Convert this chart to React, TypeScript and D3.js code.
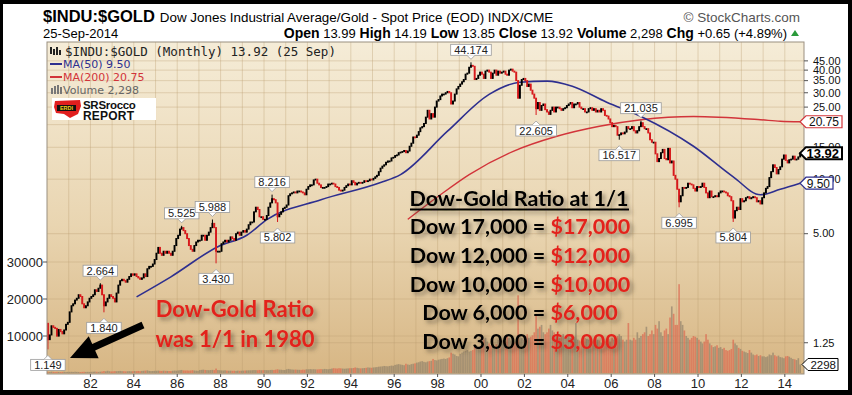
import React from 'react';
import * as d3 from 'd3';

const W = 852;
const H = 395;
const M = { left: 47, right: 804, top: 42, bottom: 374 };

// monthly closes of $INDU:$GOLD (Jan 1980 .. Sep 2014)
const close1979 = 1.6;
const closes1980s = [
  1.30, 1.38, 1.55, 1.52, 1.50, 1.36, 1.48, 1.44, 1.40, 1.47, 1.58, 1.62,
  1.85, 2.00, 2.05, 2.15, 2.20, 2.30, 2.25, 2.05, 1.95, 2.00, 2.10, 2.20,
  2.25, 2.30, 2.45, 2.40, 2.50, 2.60, 2.30, 2.00, 2.10, 2.20, 2.30, 2.25,
  2.20, 2.10, 2.35, 2.60, 2.75, 2.80, 2.75, 2.70, 2.80, 2.90, 3.00, 2.95,
  3.00, 2.90, 2.85, 2.80, 2.85, 3.00, 2.90, 3.20, 3.30, 3.30, 3.40, 3.60,
  3.90, 4.20, 3.90, 3.80, 4.00, 3.90, 4.00, 3.90, 3.80, 4.00, 4.30, 4.70,
  4.90, 5.30, 5.40, 5.20, 5.00, 4.70, 4.30, 4.10, 4.00, 4.30, 4.50, 4.60,
  4.60, 4.90, 4.90, 4.60, 4.90, 5.10, 5.40, 5.70, 5.40, 4.00, 4.00, 4.00,
  4.40, 4.50, 4.60, 4.50, 4.60, 4.80, 4.70, 4.60, 5.00, 5.10, 4.90, 5.10,
  5.20, 5.10, 5.30, 5.60, 5.80, 5.80, 6.60, 7.00, 6.80, 6.20, 6.20, 6.00,
];
const closes1990s = [
  6.00, 6.30, 7.00, 7.40, 7.80, 7.70, 7.40, 6.20, 6.40, 6.60, 6.90, 7.00,
  7.20, 8.10, 8.30, 8.40, 8.50, 8.40, 8.60, 8.60, 8.50, 8.40, 8.20, 8.80,
  9.10, 9.30, 9.30, 9.90, 10.0, 9.50, 9.30, 9.00, 9.00, 9.00, 9.10, 9.40,
  9.40, 9.50, 9.40, 9.10, 9.00, 8.70, 8.60, 8.70, 9.00, 9.20, 9.40, 9.30,
  9.80, 9.60, 9.30, 9.50, 9.60, 9.50, 9.60, 9.80, 9.70, 9.80, 10.0, 9.90,
  10.1, 10.3, 10.5, 11.0, 11.5, 11.8, 12.0, 12.4, 12.6, 12.6, 13.1, 13.2,
  13.5, 13.6, 14.0, 14.1, 14.2, 14.4, 14.0, 14.3, 15.2, 15.8, 17.1, 17.0,
  17.5, 18.3, 19.2, 19.5, 20.3, 22.0, 24.0, 21.5, 23.0, 22.0, 25.0, 27.0,
  27.5, 28.8, 29.5, 29.5, 30.0, 30.5, 30.0, 26.0, 27.0, 29.5, 31.5, 32.5,
  33.5, 34.5, 35.5, 38.0, 38.5, 41.5, 42.5, 42.0, 35.5, 36.0, 37.5, 39.0,
];
const closes2000s = [
  38.0, 36.0, 39.5, 40.0, 39.0, 36.0, 38.5, 40.0, 37.5, 39.5, 38.5, 39.0,
  39.5, 38.0, 37.5, 40.0, 40.5, 39.5, 39.0, 35.0, 28.0, 33.0, 35.5, 36.0,
  35.0, 32.5, 33.5, 31.0, 29.5, 28.0, 24.5, 26.5, 24.0, 25.5, 26.0, 24.2,
  23.5, 22.8, 24.0, 25.0, 23.5, 25.0, 25.0, 24.5, 24.0, 24.5, 24.8, 25.5,
  26.0, 26.5, 24.8, 26.0, 26.0, 26.5, 25.0, 24.5, 24.5, 23.5, 23.5, 24.5,
  24.8, 24.0, 24.5, 23.5, 24.0, 23.5, 24.5, 24.0, 22.5, 22.3, 21.5, 20.5,
  19.5, 19.8, 19.5, 17.5, 17.6, 18.0, 17.8, 18.2, 19.5, 19.0, 19.0, 19.5,
  18.5, 18.0, 18.5, 19.5, 20.5, 19.5, 19.0, 19.0, 18.0, 16.5, 16.0, 16.0,
  13.8, 12.5, 13.0, 14.0, 14.6, 13.0, 12.8, 14.8, 12.3, 12.6, 10.5, 10.0,
  8.80, 7.50, 8.10, 9.00, 8.90, 9.00, 9.50, 9.40, 9.30, 8.90, 8.60, 9.10,
];
const closes2010s = [
  9.00, 9.10, 9.50, 9.00, 8.40, 7.90, 8.60, 8.00, 8.00, 8.10, 8.00, 8.40,
  8.60, 8.60, 8.50, 8.40, 8.10, 8.00, 7.60, 6.10, 6.70, 7.00, 6.80, 7.80,
  7.50, 7.60, 7.90, 8.00, 7.80, 7.90, 8.00, 7.90, 7.50, 7.60, 7.30, 7.90,
  8.40, 8.90, 9.10, 10.2, 11.0, 12.0, 11.6, 10.7, 11.3, 11.7, 12.9, 13.6,
  12.7, 12.3, 12.8, 12.9, 13.4, 12.8, 12.9, 13.27, 13.92,
];

// monthly volume
const volumes1980s = [
  300, 250, 350, 300, 250, 300, 280, 260, 300, 320, 280, 300,
  300, 320, 280, 350, 300, 280, 260, 300, 330, 290, 310, 280,
  320, 350, 380, 330, 300, 360, 400, 520, 450, 600, 480, 420,
  450, 500, 480, 520, 560, 500, 480, 450, 470, 500, 460, 480,
  520, 500, 550, 480, 560, 600, 650, 700, 560, 520, 540, 580,
  600, 640, 580, 560, 620, 580, 560, 540, 520, 600, 650, 620,
  700, 760, 820, 720, 680, 700, 650, 700, 760, 680, 640, 600,
  800, 850, 900, 820, 780, 760, 800, 850, 780, 1200, 800, 760,
  700, 680, 720, 650, 620, 640, 600, 620, 580, 640, 600, 620,
  650, 680, 700, 720, 740, 760, 800, 780, 760, 820, 750, 780,
];
const volumes1990s = [
  800, 780, 760, 820, 840, 800, 900, 1000, 900, 880, 820, 800,
  1000, 1100, 1000, 950, 900, 920, 880, 860, 840, 900, 880, 1000,
  1000, 1050, 1000, 1020, 980, 960, 1000, 1050, 1000, 1100, 1050, 1000,
  1100, 1200, 1300, 1250, 1200, 1300, 1250, 1200, 1150, 1200, 1250, 1300,
  1300, 1350, 1500, 1400, 1300, 1250, 1300, 1350, 1400, 1500, 1450, 1400,
  1500, 1550, 1600, 1700, 1750, 1800, 1900, 1850, 1800, 1900, 2000, 1950,
  2200, 2300, 2400, 2300, 2200, 2100, 2500, 2300, 2200, 2400, 2500, 2600,
  2800, 2900, 3100, 3200, 3000, 2900, 3100, 3200, 3300, 3800, 3500, 3400,
  3600, 3700, 3800, 3900, 3800, 4000, 4200, 5500, 5200, 5000, 4600, 4500,
  5200, 5500, 5800, 6000, 6200, 5800, 6000, 6200, 7000, 7500, 6800, 6500,
];
const volumes2000s = [
  8000, 9000, 9500, 8500, 8000, 7500, 7000, 7200, 7800, 9000, 8500, 8800,
  9000, 8500, 10000, 9500, 8800, 8000, 8200, 8500, 21000, 10500, 9500, 9000,
  10000, 10500, 9500, 9800, 10200, 11000, 16000, 12000, 12500, 13000, 11000, 10500,
  11000, 12000, 13000, 11500, 11000, 10500, 10000, 9500, 10000, 10500, 9500, 9800,
  10000, 9500, 10500, 9800, 13500, 9000, 8800, 8500, 8700, 9500, 9200, 9000,
  9000, 8500, 9000, 9500, 9000, 8800, 8200, 8000, 8500, 9000, 9200, 8500,
  9500, 9000, 9500, 10000, 10500, 10000, 9000, 8500, 9000, 13500, 9000, 8800,
  9500, 9000, 11000, 9500, 10000, 10500, 11000, 12500, 10000, 10500, 11500, 10500,
  13000, 12000, 14000, 11000, 10000, 11500, 12000, 10500, 15000, 18000, 16000, 13000,
  13000, 24000, 14000, 13000, 11500, 10000, 9500, 9000, 9500, 10000, 9800, 9500,
];
const volumes2010s = [
  9000, 8500, 8000, 8500, 10500, 9000, 8000, 7500, 7000, 7200, 7500, 6800,
  7000, 6500, 6800, 6200, 6000, 6200, 6500, 9000, 8000, 7500, 6800, 6500,
  6000, 5800, 5600, 5400, 6200, 5500, 5000, 4800, 5000, 4600, 4800, 4500,
  4500, 4300, 4500, 5000, 4800, 5500, 4800, 4500, 4700, 4300, 4200, 4000,
  4500, 4600, 4400, 4100, 3800, 3700, 3500, 4000, 2298,
];

// labelled highs / lows
const callouts = [
  { month: '1980-01', value: 1.149, above: false },
  { month: '1982-06', value: 2.664, above: true },
  { month: '1982-08', value: 1.84, above: false },
  { month: '1986-03', value: 5.525, above: true },
  { month: '1987-08', value: 5.988, above: true },
  { month: '1987-10', value: 3.43, above: false },
  { month: '1990-05', value: 8.216, above: true },
  { month: '1990-08', value: 5.802, above: false },
  { month: '1999-07', value: 44.174, above: true },
  { month: '2002-07', value: 22.605, above: false },
  { month: '2006-05', value: 16.517, above: false },
  { month: '2007-05', value: 21.035, above: true },
  { month: '2009-02', value: 6.995, above: false },
  { month: '2011-08', value: 5.804, above: false },
];

// moving averages
const ma50Months = ['1984-02', '1985-09', '1987-11', '1989-03', '1990-02', '1992-08', '1995-05', '1996-04', '1998-06', '2000-05', '2001-10', '2003-01', '2004-03', '2005-10', '2007-05', '2009-10', '2011-08', '2012-11', '2013-10', '2014-09'];
const ma50Values = [2.24, 2.89, 4.24, 4.9, 5.98, 7.7, 9.58, 10.6, 18.4, 29.4, 34.3, 34.8, 32.6, 26.6, 22.2, 15.2, 10.3, 8.2, 8.8, 9.5];
const ma200Months = ['1996-08', '1998-02', '1999-06', '2001-06', '2003-06', '2005-06', '2007-05', '2009-10', '2012-11', '2013-10', '2014-09'];
const ma200Values = [6.0, 8.2, 10.6, 14.2, 17.2, 19.6, 21.3, 22.2, 21.3, 20.9, 20.75];

const priceTicks = [45, 40, 35, 30, 25, 20, 15, 10, 5, 1.25];
const hiddenPriceLabels = [20]; // covered by the MA(200) tag
const volumeTicks = [10000, 20000, 30000];
const yearLabels = d3.range(1982, 2015, 2);

const headerStats = [
  ['Open', '13.99'], ['High', '14.19'], ['Low', '13.85'], ['Close', '13.92'],
  ['Volume', '2,298'], ['Chg', '+0.65 (+4.89%)'],
];

const ratioLines = [
  ['Dow 17,000 = ', '$17,000'],
  ['Dow 12,000 = ', '$12,000'],
  ['Dow 10,000 = ', '$10,000'],
  ['Dow 6,000 = ', '$6,000'],
  ['Dow 3,000 = ', '$3,000'],
];

const parseMonth = d3.timeParse('%Y-%m');
const RED = '#d7191c';
const BLUE = '#2e2f8f';
const MARED = '#d2343a';

export default function App() {
  const x = d3.scaleTime().domain([new Date(1980, 0, 1), new Date(2015, 0, 1)]).range([M.left, 806.5]);
  const y = d3.scaleLog().domain([0.84, 57.2]).range([M.bottom, M.top]);
  const yVol = d3.scaleLinear().domain([0, 10000]).range([373, 336]);

  const closes = [...closes1980s, ...closes1990s, ...closes2000s, ...closes2010s];
  const volumes = [...volumes1980s, ...volumes1990s, ...volumes2000s, ...volumes2010s];
  const fmtMonth = d3.timeFormat('%Y-%m');

  const bars = closes.map((c, i) => {
    const date = new Date(1980, i, 1);
    const open = i === 0 ? close1979 : closes[i - 1];
    let high = Math.max(open, c);
    let low = Math.min(open, c);
    const call = callouts.find((k) => k.month === fmtMonth(date));
    if (call) {
      if (call.above) high = Math.max(high, call.value);
      else low = Math.min(low, call.value);
    }
    return { date, open, close: c, high, low, up: c >= open, volume: volumes[i] };
  });

  const barW = x(new Date(1980, 1, 1)) - x(new Date(1980, 0, 1));
  const mid = (d: Date) => x(d) + barW / 2;

  const maLine = d3
    .line<[string, number]>()
    .x((d) => mid(parseMonth(d[0]) as Date))
    .y((d) => y(d[1]))
    .curve(d3.curveMonotoneX);

  const ma50 = maLine(ma50Months.map((m, i) => [m, ma50Values[i]] as [string, number]));
  const ma200 = maLine(ma200Months.map((m, i) => [m, ma200Values[i]] as [string, number]));

  const tag = (cy: number, x0: number, x1: number) =>
    `M${x0},${cy} L${x0 + 6},${cy - 6} L${x1},${cy - 6} L${x1},${cy + 6} L${x0 + 6},${cy + 6} Z`;

  const last = bars[bars.length - 1];

  // arrow annotation
  const tail = [143, 325];
  const tip = [70, 358];
  const ang = Math.atan2(tip[1] - tail[1], tip[0] - tail[0]);
  const ux = Math.cos(ang), uy = Math.sin(ang);
  const px = -uy, py = ux;
  const headL = 26, headW = 12, shaftW = 3.5;
  const bx = tip[0] - ux * headL, by = tip[1] - uy * headL;
  const arrowPts = [
    [tail[0] + px * shaftW, tail[1] + py * shaftW],
    [bx + px * shaftW, by + py * shaftW],
    [bx + px * headW, by + py * headW],
    tip,
    [bx - px * headW, by - py * headW],
    [bx - px * shaftW, by - py * shaftW],
    [tail[0] - px * shaftW, tail[1] - py * shaftW],
  ].map((p) => p.join(',')).join(' ');

  return (
    <svg width={W} height={H} style={{ position: 'absolute', left: 0, top: 0, display: 'block' }}
      fontFamily="'Liberation Sans', Arial, sans-serif">
      <defs>
        <linearGradient id="bg" x1="0" y1="0" x2="0" y2="1">
          <stop offset="0" stopColor="#f5ecd7" />
          <stop offset="0.55" stopColor="#e9d5b1" />
          <stop offset="1" stopColor="#d7b684" />
        </linearGradient>
        <clipPath id="plotClip">
          <rect x={M.left} y={M.top} width={M.right - M.left} height={M.bottom - M.top} />
        </clipPath>
        <filter id="shadow" x="-10%" y="-20%" width="120%" height="150%">
          <feDropShadow dx="3" dy="3" stdDeviation="2" floodColor="#4a4030" floodOpacity="0.55" />
        </filter>
      </defs>

      <rect width={W} height={H} fill="#000" />
      <rect x={3} y={4} width={845} height={386} fill="#fff" />

      {/* header */}
      <text x={43} y={22} fill="#000">
        <tspan fontWeight="bold" fontSize={16.5}>$INDU:$GOLD</tspan>
        <tspan fontSize={13.4} dx={5}>Dow Jones Industrial Average/Gold - Spot Price (EOD) INDX/CME</tspan>
      </text>
      <text x={800} y={22} textAnchor="end" fontSize={13.5} fill="#555">© StockCharts.com</text>
      <text x={43} y={38} fontSize={13} fill="#000">25-Sep-2014</text>
      <text x={787} y={38} textAnchor="end" fill="#000">
        {headerStats.map(([k, v], i) => (
          <tspan key={k}>
            <tspan fontWeight="bold" fontSize={14}>{(i ? ' ' : '') + k}</tspan>
            <tspan fontSize={13}>{' ' + v}</tspan>
          </tspan>
        ))}
      </text>
      <path d="M791,36 L795,30 L799,36 Z" fill="#2a9a3a" />

      {/* plot background + grid */}
      <rect x={M.left} y={M.top} width={M.right - M.left} height={M.bottom - M.top} fill="url(#bg)" />
      <g stroke="#b89c6c" strokeOpacity={0.35} strokeWidth={1}>
        {d3.range(1981, 2015).map((yr) => (
          <line key={yr} x1={x(new Date(yr, 0, 1))} x2={x(new Date(yr, 0, 1))} y1={M.top} y2={M.bottom} />
        ))}
        {priceTicks.map((t) => (
          <line key={'p' + t} x1={M.left} x2={M.right} y1={y(t)} y2={y(t)} />
        ))}
        {volumeTicks.map((t) => (
          <line key={'v' + t} x1={M.left} x2={M.right} y1={yVol(t)} y2={yVol(t)} />
        ))}
      </g>

      <g clipPath="url(#plotClip)">
        {/* volume */}
        {bars.map((b, i) => (
          <rect key={'vol' + i} x={x(b.date) + 0.1} width={barW - 0.2} y={yVol(b.volume)}
            height={yVol(0) - yVol(b.volume)}
            fill={b.up ? '#7d7263' : '#dc5a46'} fillOpacity={b.up ? 0.55 : 0.6} />
        ))}
        {/* moving averages */}
        <path d={ma200 || ''} fill="none" stroke={MARED} strokeWidth={1.4} />
        <path d={ma50 || ''} fill="none" stroke={BLUE} strokeWidth={1.6} />
        {/* candles */}
        {bars.map((b, i) => {
          const cx = mid(b.date);
          const col = b.up ? '#000' : RED;
          const top = y(Math.max(b.open, b.close));
          const bot = y(Math.min(b.open, b.close));
          return (
            <g key={'c' + i}>
              <line x1={cx} x2={cx} y1={y(b.high)} y2={y(b.low)} stroke={col} strokeWidth={1} />
              <rect x={cx - 0.95} width={1.9} y={top - 0.5} height={Math.max(1.8, bot - top + 1)} fill={col} />
            </g>
          );
        })}
      </g>
      <rect x={M.left} y={M.top} width={M.right - M.left} height={M.bottom - M.top} fill="none" stroke="#9a8f80" />

      {/* legend */}
      <g fontSize={11} fontFamily="'DejaVu Sans', Verdana, sans-serif">
        <g fill="#222">
          <rect x={50} y={47} width={2} height={7} />
          <rect x={53} y={49} width={2} height={6} />
          <rect x={56} y={47} width={2} height={8} />
          <rect x={59} y={50} width={2} height={5} />
        </g>
        <text x={65} y={56} fontSize={12.5} fontFamily="'DejaVu Sans Mono', monospace" fill="#222">$INDU:$GOLD (Monthly) 13.92 (25 Sep)</text>
        <line x1={50} x2={62} y1={64} y2={64} stroke={BLUE} strokeWidth={2} />
        <text x={63} y={68} fill={BLUE}>MA(50) 9.50</text>
        <line x1={50} x2={62} y1={77} y2={77} stroke={MARED} strokeWidth={2} />
        <text x={63} y={81} fill={MARED}>MA(200) 20.75</text>
        <g fill="#777">
          <rect x={51} y={88} width={2} height={6} />
          <rect x={54} y={86} width={2} height={8} />
          <rect x={57} y={85} width={2} height={9} />
          <rect x={60} y={87} width={2} height={7} />
        </g>
        <text x={63} y={94} fill="#666">Volume 2,298</text>
      </g>

      {/* SRSrocco logo */}
      <g>
        <rect x={52} y={98} width={104} height={22} fill="#fff" />
        <path d="M55,101 L80,100 L81,106 L78,114 L70,118 L64,114 L56,113 L54,107 Z" fill="#e01e1e" />
        <rect x={57} y={105} width={19} height={6} fill="#111" />
        <text x={66.5} y={110} fontSize={5.5} fontWeight="bold" fill="#f3d21a" textAnchor="middle">ERDI</text>
        <text x={83} y={109} fontSize={11.5} fontWeight="bold" fill="#111" letterSpacing={-0.3}>SRSrocco</text>
        <text x={83} y={119.5} fontSize={12} fontWeight="bold" fill="#111" letterSpacing={0.2}>REPORT</text>
      </g>

      {/* right price axis */}
      <g fontSize={11} fill="#111">
        {priceTicks.map((t) => (
          <g key={'pt' + t}>
            <line x1={M.right} x2={M.right + 4} y1={y(t)} y2={y(t)} stroke="#555" />
            {!hiddenPriceLabels.includes(t) && <text x={813} y={y(t) + 3.8}>{t.toFixed(2)}</text>}
          </g>
        ))}
      </g>

      {/* left volume axis */}
      <g fontSize={13} fill="#222">
        {volumeTicks.map((t) => (
          <g key={'vt' + t}>
            <line x1={M.left - 4} x2={M.left} y1={yVol(t)} y2={yVol(t)} stroke="#555" />
            <text x={M.left - 4} y={yVol(t) + 4.5} textAnchor="end">{t}</text>
          </g>
        ))}
      </g>

      {/* x axis */}
      <g fontSize={13} fill="#222" textAnchor="middle">
        {yearLabels.map((yr) => (
          <g key={'yl' + yr}>
            <line x1={x(new Date(yr, 0, 1))} x2={x(new Date(yr, 0, 1))} y1={M.bottom} y2={M.bottom + 3} stroke="#555" />
            <text x={x(new Date(yr, 0, 1))} y={388}>{d3.timeFormat('%y')(new Date(yr, 0, 1))}</text>
          </g>
        ))}
      </g>

      {/* value tags */}
      <g fontSize={12}>
        <path d={tag(y(ma200Values[ma200Values.length - 1]), 800, 842)} fill="#fff" stroke={MARED} strokeWidth={1.2} />
        <text x={839} y={y(ma200Values[ma200Values.length - 1]) + 4.3} textAnchor="end" fill="#111">20.75</text>
        <path d={tag(y(last.close), 800, 842)} fill="#fff" stroke="#000" strokeWidth={2} />
        <text x={839} y={y(last.close) + 4.5} textAnchor="end" fill="#000" fontWeight="bold" fontSize={13}>{last.close.toFixed(2)}</text>
        <path d={tag(y(ma50Values[ma50Values.length - 1]), 800, 833)} fill="#fff" stroke={BLUE} strokeWidth={1.2} />
        <text x={830} y={y(ma50Values[ma50Values.length - 1]) + 4.3} textAnchor="end" fill="#111">9.50</text>
        <path d={tag(yVol(last.volume), 802, 838)} fill="#fff" stroke="#000" strokeWidth={1} />
        <text x={836} y={yVol(last.volume) + 4.2} textAnchor="end" fill="#111" fontSize={11.5}>{last.volume}</text>
      </g>

      {/* callout labels */}
      <g fontSize={11}>
        {callouts.map((c) => {
          const cx = mid(parseMonth(c.month) as Date);
          const cy = y(c.value);
          const label = c.value.toFixed(3);
          const w = label.length * 6.1 + 4;
          const top = c.above ? cy - 18 : cy + 10;
          const ptr = c.above
            ? `M${cx - 4},${top + 11} L${cx},${top + 15} L${cx + 4},${top + 11}`
            : `M${cx - 4},${top} L${cx},${top - 4} L${cx + 4},${top}`;
          return (
            <g key={c.month}>
              <rect x={cx - w / 2} y={top} width={w} height={11} fill="#fff" stroke="#9a9a9a" strokeWidth={0.8} />
              <path d={ptr} fill="#fff" stroke="#9a9a9a" strokeWidth={0.8} />
              <text x={cx} y={top + 9.5} textAnchor="middle" fill="#222">{label}</text>
            </g>
          );
        })}
      </g>

      {/* annotations */}
      <g fontFamily="Lato, 'Open Sans', sans-serif" fontWeight="bold" filter="url(#shadow)">
        <text x={235} y={317} fontSize={22} fill="#e3221b" textAnchor="middle">Dow-Gold Ratio</text>
        <text x={235} y={347} fontSize={22} fill="#e3221b" textAnchor="middle">was 1/1 in 1980</text>
        <text x={519} y={206} fontSize={21.5} fill="#000" textAnchor="middle">Dow-Gold Ratio at 1/1</text>
        <rect x={410} y={208.5} width={219} height={2} fill="#000" />
        {ratioLines.map(([a, b], i) => (
          <text key={b} x={520} y={234 + i * 28.8} fontSize={21.5} textAnchor="middle" fill="#000">
            {a}<tspan fill="#e3221b">{b}</tspan>
          </text>
        ))}
      </g>
      <polygon points={arrowPts} fill="#000" />
    </svg>
  );
}
